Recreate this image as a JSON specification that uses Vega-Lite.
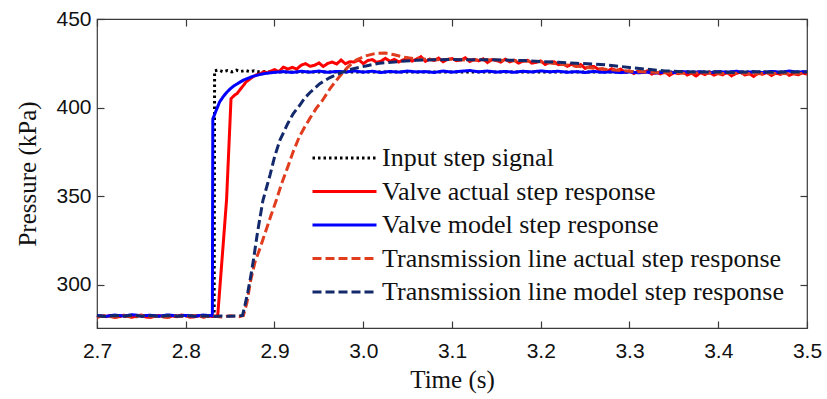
{
"$schema": "https://vega.github.io/schema/vega-lite/v6.json",
"width": 710, "height": 309,
"autosize": {"type": "none"},
"padding": {"left": 97, "top": 19, "right": 20, "bottom": 71},
"background": "white",
"resolve": {"axis": {"x": "independent", "y": "independent"}},
"layer": [
{
"data": {"values": [
{"t":2.70,"p":282.0},{"t":2.72,"p":282.4},{"t":2.74,"p":281.8},{"t":2.76,"p":282.3},{"t":2.78,"p":282.0},{"t":2.80,"p":282.5},{"t":2.82,"p":282.1},{"t":2.832,"p":282.2},{"t":2.8325,"p":420.8},{"t":2.837,"p":421.2},{"t":2.842,"p":420.2},{"t":2.847,"p":420.9},{"t":2.852,"p":420.1},{"t":2.857,"p":421.1},{"t":2.862,"p":420.4},{"t":2.867,"p":420.9},{"t":2.872,"p":420.3},{"t":2.877,"p":420.7},{"t":2.882,"p":420.2},{"t":2.89,"p":420.3},{"t":2.9,"p":420.1},{"t":3.0,"p":420},{"t":3.1,"p":420},{"t":3.2,"p":420},{"t":3.3,"p":420},{"t":3.4,"p":420},{"t":3.5,"p":420}
]},
"mark": {"type": "line", "strokeWidth": 3},
"encoding": {
"x": {"field": "t", "type": "quantitative", "scale": {"domain": [2.7, 3.5], "nice": false, "zero": false}, "axis": {"orient": "bottom", "values": [2.7,2.8,2.9,3.0,3.1,3.2,3.3,3.4,3.5], "format": ".1f", "title": "Time (s)"}},
"y": {"field": "p", "type": "quantitative", "scale": {"domain": [275.5, 450], "nice": false, "zero": false}, "axis": {"orient": "left", "values": [300,350,400,450], "title": "Pressure (kPa)"}},
"color": {"datum": "Input step signal", "type": "nominal", "scale": {"domain": ["Input step signal","Valve actual step response","Valve model step response","Transmission line actual step response","Transmission line model step response"], "range": ["#000000","#ff0000","#0000ff","#e03c1e","#13296b"]}, "legend": {"title": null}},
"strokeDash": {"datum": "Input step signal", "type": "nominal", "scale": {"domain": ["Input step signal","Valve actual step response","Valve model step response","Transmission line actual step response","Transmission line model step response"], "range": [[2.5,3],[1,0],[1,0],[9,4],[9,4]]}, "legend": {"title": null}}
}
},
{
"data": {"values": [
{"t":2.700,"p":281.5},{"t":2.705,"p":282.3},{"t":2.71,"p":281.9},{"t":2.715,"p":282.6},{"t":2.72,"p":281.4},{"t":2.725,"p":281.9},{"t":2.73,"p":282.7},{"t":2.735,"p":282.2},{"t":2.74,"p":281.6},{"t":2.745,"p":282.4},{"t":2.75,"p":282.8},{"t":2.755,"p":281.7},{"t":2.76,"p":281.5},{"t":2.765,"p":282.1},{"t":2.77,"p":282.6},{"t":2.775,"p":281.8},{"t":2.78,"p":281.6},{"t":2.785,"p":282.3},{"t":2.79,"p":281.9},{"t":2.795,"p":282.8},{"t":2.80,"p":282.4},{"t":2.805,"p":281.6},{"t":2.81,"p":281.8},{"t":2.815,"p":282.5},{"t":2.82,"p":281.6},{"t":2.825,"p":282.3},{"t":2.83,"p":282.0},{"t":2.836,"p":282.4},{"t":2.841,"p":315},{"t":2.846,"p":348},{"t":2.851,"p":405},{"t":2.855,"p":407},{"t":2.858,"p":408},{"t":2.861,"p":410},{"t":2.865,"p":412.5},{"t":2.868,"p":414.5},{"t":2.872,"p":416},{"t":2.876,"p":417.5},{"t":2.88,"p":418.5},{"t":2.884,"p":419},{"t":2.888,"p":420.2},{"t":2.892,"p":419.6},{"t":2.896,"p":420.6},
{"t":2.900,"p":421.4},{"t":2.905,"p":420.3},{"t":2.910,"p":422.8},{"t":2.915,"p":421.7},{"t":2.920,"p":422.7},{"t":2.925,"p":421.7},{"t":2.930,"p":423.9},{"t":2.935,"p":424.8},{"t":2.940,"p":423.3},{"t":2.945,"p":423.8},{"t":2.950,"p":425.2},{"t":2.955,"p":423.2},{"t":2.960,"p":424.9},{"t":2.965,"p":425.7},{"t":2.970,"p":424.6},{"t":2.975,"p":426.8},{"t":2.980,"p":424.7},{"t":2.985,"p":425.9},{"t":2.990,"p":425.7},{"t":2.995,"p":426.9},{"t":3.000,"p":424.8},{"t":3.005,"p":426.5},{"t":3.010,"p":427.1},{"t":3.015,"p":425.6},{"t":3.020,"p":426.2},{"t":3.025,"p":427.8},{"t":3.030,"p":426.1},{"t":3.035,"p":427.2},{"t":3.040,"p":425.7},{"t":3.045,"p":426.9},{"t":3.050,"p":427.9},{"t":3.055,"p":426.2},{"t":3.060,"p":427.4},{"t":3.065,"p":428.7},{"t":3.070,"p":426.1},{"t":3.075,"p":427.3},{"t":3.080,"p":426.6},{"t":3.085,"p":427.9},{"t":3.090,"p":425.9},{"t":3.095,"p":427.2},{"t":3.100,"p":427.7},{"t":3.105,"p":426.5},{"t":3.110,"p":426.8},{"t":3.115,"p":428.1},{"t":3.120,"p":426.0},{"t":3.125,"p":427.2},{"t":3.130,"p":426.4},{"t":3.135,"p":427.5},{"t":3.140,"p":425.4},{"t":3.145,"p":427.1},{"t":3.150,"p":426.6},{"t":3.155,"p":425.7},{"t":3.160,"p":427.3},{"t":3.165,"p":425.8},{"t":3.170,"p":426.7},{"t":3.175,"p":425.1},{"t":3.180,"p":426.2},{"t":3.185,"p":426.7},{"t":3.190,"p":425.1},{"t":3.195,"p":425.5},{"t":3.200,"p":426.3},{"t":3.205,"p":424.3},{"t":3.210,"p":425.5},{"t":3.215,"p":425.8},{"t":3.220,"p":424.2},{"t":3.225,"p":424.6},{"t":3.230,"p":423.3},{"t":3.235,"p":424.5},{"t":3.240,"p":423.2},{"t":3.245,"p":424.3},{"t":3.250,"p":422.1},{"t":3.255,"p":423.0},{"t":3.260,"p":423.2},{"t":3.265,"p":421.5},{"t":3.270,"p":421.9},{"t":3.275,"p":420.5},{"t":3.280,"p":421.9},{"t":3.285,"p":420.8},{"t":3.290,"p":421.7},{"t":3.295,"p":419.9},{"t":3.300,"p":420.7},{"t":3.305,"p":419.2},{"t":3.310,"p":420.7},{"t":3.315,"p":419.7},{"t":3.320,"p":420.7},{"t":3.325,"p":418.9},{"t":3.330,"p":419.8},{"t":3.335,"p":419.0},{"t":3.340,"p":420.2},{"t":3.345,"p":418.2},{"t":3.350,"p":419.7},{"t":3.355,"p":419.1},{"t":3.360,"p":420.1},{"t":3.365,"p":418.4},{"t":3.370,"p":419.4},{"t":3.375,"p":417.8},{"t":3.380,"p":419.7},{"t":3.385,"p":418.6},{"t":3.390,"p":420.0},{"t":3.395,"p":418.3},{"t":3.400,"p":419.2},{"t":3.405,"p":418.5},{"t":3.410,"p":419.8},{"t":3.415,"p":417.9},{"t":3.420,"p":419.3},{"t":3.425,"p":419.9},{"t":3.430,"p":418.4},{"t":3.435,"p":419.1},{"t":3.440,"p":417.6},{"t":3.445,"p":419.5},{"t":3.450,"p":418.8},{"t":3.455,"p":419.8},{"t":3.460,"p":418.1},{"t":3.465,"p":419.4},{"t":3.470,"p":418.7},{"t":3.475,"p":420.1},{"t":3.480,"p":418.2},{"t":3.485,"p":419.2},{"t":3.490,"p":418.5},{"t":3.495,"p":419.6},{"t":3.500,"p":418.8}
]},
"mark": {"type": "line", "strokeWidth": 3},
"encoding": {
"x": {"field": "t", "type": "quantitative", "axis": null},
"y": {"field": "p", "type": "quantitative", "axis": null},
"color": {"datum": "Valve actual step response", "type": "nominal"},
"strokeDash": {"datum": "Valve actual step response", "type": "nominal"}
}
},
{
"data": {"values": [
{"t":2.70,"p":282.6},{"t":2.71,"p":282.1},{"t":2.72,"p":282.8},{"t":2.73,"p":282.3},{"t":2.74,"p":283.0},{"t":2.75,"p":282.4},{"t":2.76,"p":282.7},{"t":2.77,"p":282.2},{"t":2.78,"p":282.9},{"t":2.79,"p":282.3},{"t":2.80,"p":282.6},{"t":2.81,"p":282.2},{"t":2.82,"p":282.8},{"t":2.83,"p":282.4},{"t":2.8305,"p":393.5},{"t":2.834,"p":398},{"t":2.838,"p":403},{"t":2.842,"p":406},{"t":2.846,"p":408.5},{"t":2.85,"p":410.5},{"t":2.855,"p":412.5},{"t":2.86,"p":414},{"t":2.865,"p":415.5},{"t":2.87,"p":416.5},{"t":2.875,"p":417.5},{"t":2.88,"p":418.2},{"t":2.885,"p":418.8},{"t":2.89,"p":419.3},{"t":2.895,"p":419.6},{"t":2.90,"p":419.9},
{"t":2.91,"p":420.3},{"t":2.92,"p":419.8},{"t":2.93,"p":420.5},{"t":2.94,"p":420.0},{"t":2.95,"p":420.6},{"t":2.96,"p":419.9},{"t":2.97,"p":420.4},{"t":2.98,"p":420.1},{"t":2.99,"p":420.7},{"t":3.00,"p":420.0},{"t":3.01,"p":420.5},{"t":3.02,"p":419.8},{"t":3.03,"p":420.4},{"t":3.04,"p":420.0},{"t":3.05,"p":420.6},{"t":3.06,"p":420.1},{"t":3.07,"p":420.3},{"t":3.08,"p":419.8},{"t":3.09,"p":420.6},{"t":3.10,"p":420.0},{"t":3.11,"p":420.5},{"t":3.12,"p":420.9},{"t":3.13,"p":420.2},{"t":3.14,"p":420.6},{"t":3.15,"p":420.0},{"t":3.16,"p":420.4},{"t":3.17,"p":419.9},{"t":3.18,"p":420.5},{"t":3.19,"p":420.1},{"t":3.20,"p":420.7},{"t":3.21,"p":420.2},{"t":3.22,"p":420.5},{"t":3.23,"p":419.9},{"t":3.24,"p":420.3},{"t":3.25,"p":419.8},{"t":3.26,"p":420.4},{"t":3.27,"p":419.9},{"t":3.28,"p":420.2},{"t":3.29,"p":419.7},{"t":3.30,"p":420.1},{"t":3.31,"p":419.6},{"t":3.32,"p":420.0},{"t":3.33,"p":419.5},{"t":3.34,"p":420.1},{"t":3.35,"p":419.7},{"t":3.36,"p":420.3},{"t":3.37,"p":419.8},{"t":3.38,"p":420.2},{"t":3.39,"p":419.6},{"t":3.40,"p":420.3},{"t":3.41,"p":419.9},{"t":3.42,"p":420.5},{"t":3.43,"p":419.8},{"t":3.44,"p":420.2},{"t":3.45,"p":419.7},{"t":3.46,"p":420.4},{"t":3.47,"p":419.9},{"t":3.48,"p":420.6},{"t":3.49,"p":420.0},{"t":3.50,"p":420.3}
]},
"mark": {"type": "line", "strokeWidth": 3},
"encoding": {
"x": {"field": "t", "type": "quantitative", "axis": null},
"y": {"field": "p", "type": "quantitative", "axis": null},
"color": {"datum": "Valve model step response", "type": "nominal"},
"strokeDash": {"datum": "Valve model step response", "type": "nominal"}
}
},
{
"data": {"values": [
{"t":2.70,"p":281.8},{"t":2.71,"p":282.4},{"t":2.72,"p":281.6},{"t":2.73,"p":282.3},{"t":2.74,"p":281.7},{"t":2.75,"p":282.5},{"t":2.76,"p":281.9},{"t":2.77,"p":282.2},{"t":2.78,"p":281.6},{"t":2.79,"p":282.4},{"t":2.80,"p":281.8},{"t":2.81,"p":282.6},{"t":2.82,"p":281.9},{"t":2.83,"p":282.3},{"t":2.84,"p":281.7},{"t":2.85,"p":282.4},{"t":2.86,"p":281.9},{"t":2.865,"p":282.6},{"t":2.869,"p":290},{"t":2.873,"p":302},{"t":2.878,"p":312.7},{"t":2.884,"p":321},{"t":2.89,"p":330},{"t":2.896,"p":339},{"t":2.902,"p":347.6},{"t":2.908,"p":357},{"t":2.915,"p":366.5},{"t":2.921,"p":375},{"t":2.928,"p":383.5},{"t":2.934,"p":389},{"t":2.94,"p":394},{"t":2.947,"p":399.5},{"t":2.954,"p":404},{"t":2.963,"p":411},{"t":2.973,"p":417.4},{"t":2.982,"p":422.5},{"t":2.992,"p":426.8},{"t":3.003,"p":429.2},{"t":3.015,"p":430.7},{"t":3.025,"p":430.8},{"t":3.035,"p":429.8},{"t":3.045,"p":428.5},{"t":3.06,"p":427.5},{"t":3.08,"p":427},{"t":3.10,"p":427.2},{"t":3.12,"p":426.8},{"t":3.14,"p":427},{"t":3.16,"p":426.5},{"t":3.18,"p":426.3},{"t":3.20,"p":425.8},{"t":3.22,"p":424.6},{"t":3.24,"p":423.4},{"t":3.26,"p":422.2},{"t":3.28,"p":421.3},{"t":3.30,"p":420.5},{"t":3.32,"p":420},{"t":3.34,"p":419.6},{"t":3.36,"p":419.4},{"t":3.38,"p":419.6},{"t":3.40,"p":419.2},{"t":3.42,"p":419.4},{"t":3.44,"p":419.0},{"t":3.46,"p":419.3},{"t":3.48,"p":419.1},{"t":3.50,"p":419.3}
]},
"mark": {"type": "line", "strokeWidth": 3},
"encoding": {
"x": {"field": "t", "type": "quantitative", "axis": null},
"y": {"field": "p", "type": "quantitative", "axis": null},
"color": {"datum": "Transmission line actual step response", "type": "nominal"},
"strokeDash": {"datum": "Transmission line actual step response", "type": "nominal"}
}
},
{
"data": {"values": [
{"t":2.70,"p":282.4},{"t":2.71,"p":282.0},{"t":2.72,"p":282.6},{"t":2.73,"p":282.2},{"t":2.74,"p":282.8},{"t":2.75,"p":282.1},{"t":2.76,"p":282.5},{"t":2.77,"p":282.0},{"t":2.78,"p":282.6},{"t":2.79,"p":282.2},{"t":2.80,"p":282.5},{"t":2.81,"p":282.1},{"t":2.82,"p":282.4},{"t":2.83,"p":282.0},{"t":2.84,"p":282.3},{"t":2.85,"p":282.1},{"t":2.86,"p":282.4},{"t":2.864,"p":282.6},{"t":2.867,"p":289},{"t":2.870,"p":296},{"t":2.873,"p":304},{"t":2.876,"p":313},{"t":2.881,"p":330},{"t":2.887,"p":347.6},{"t":2.895,"p":362},{"t":2.9,"p":372},{"t":2.906,"p":381.5},{"t":2.915,"p":391},{"t":2.921,"p":396.5},{"t":2.928,"p":401},{"t":2.934,"p":405.3},{"t":2.94,"p":408.5},{"t":2.951,"p":413.5},{"t":2.962,"p":416.8},{"t":2.973,"p":419.3},{"t":2.985,"p":421.5},{"t":3.003,"p":423.5},{"t":3.018,"p":425},{"t":3.04,"p":426},{"t":3.06,"p":426.7},{"t":3.08,"p":427},{"t":3.10,"p":427.1},{"t":3.12,"p":427.0},{"t":3.14,"p":427.0},{"t":3.16,"p":426.8},{"t":3.18,"p":426.5},{"t":3.20,"p":426.0},{"t":3.22,"p":425.6},{"t":3.24,"p":425.0},{"t":3.26,"p":424.6},{"t":3.28,"p":423.8},{"t":3.30,"p":422.6},{"t":3.32,"p":421.6},{"t":3.34,"p":420.7},{"t":3.36,"p":420.2},{"t":3.38,"p":420.0},{"t":3.40,"p":420.1},{"t":3.42,"p":419.8},{"t":3.44,"p":420.2},{"t":3.46,"p":419.9},{"t":3.48,"p":420.1},{"t":3.50,"p":420.0}
]},
"mark": {"type": "line", "strokeWidth": 3},
"encoding": {
"x": {"field": "t", "type": "quantitative", "axis": null},
"y": {"field": "p", "type": "quantitative", "axis": null},
"color": {"datum": "Transmission line model step response", "type": "nominal"},
"strokeDash": {"datum": "Transmission line model step response", "type": "nominal"}
}
},
{
"data": {"values": [{"t": 2.7, "p": 300}]},
"mark": {"type": "point", "opacity": 0},
"encoding": {
"x": {"field": "t", "type": "quantitative", "axis": {"orient": "top", "values": [2.7,2.8,2.9,3.0,3.1,3.2,3.3,3.4,3.5], "labels": false, "title": null}},
"y": {"field": "p", "type": "quantitative", "axis": {"orient": "right", "values": [300,350,400,450], "labels": false, "title": null}}
}
}
],
"config": {
"view": {"stroke": "#3a3a3a", "strokeWidth": 1.2},
"axis": {"grid": false, "domain": false, "tickSize": -7, "tickColor": "#3a3a3a", "tickWidth": 1.2, "labelFont": "Liberation Sans", "labelFontSize": 21, "labelColor": "#111111", "titleFont": "Liberation Serif", "titleFontSize": 25, "titleFontWeight": "normal", "titleColor": "#111111", "labelFlush": false, "labelOverlap": false},
"axisX": {"labelPadding": 19, "titlePadding": 6},
"axisY": {"labelPadding": 13, "titlePadding": 15},
"legend": {"orient": "none", "legendX": 214, "legendY": 126, "symbolType": "stroke", "symbolSize": 4096, "symbolStrokeWidth": 3, "clipHeight": 26, "rowPadding": 7.5, "labelFont": "Liberation Serif", "labelFontSize": 26, "labelColor": "#111111", "labelOffset": 4, "padding": 0, "labelLimit": 0}
}
}
